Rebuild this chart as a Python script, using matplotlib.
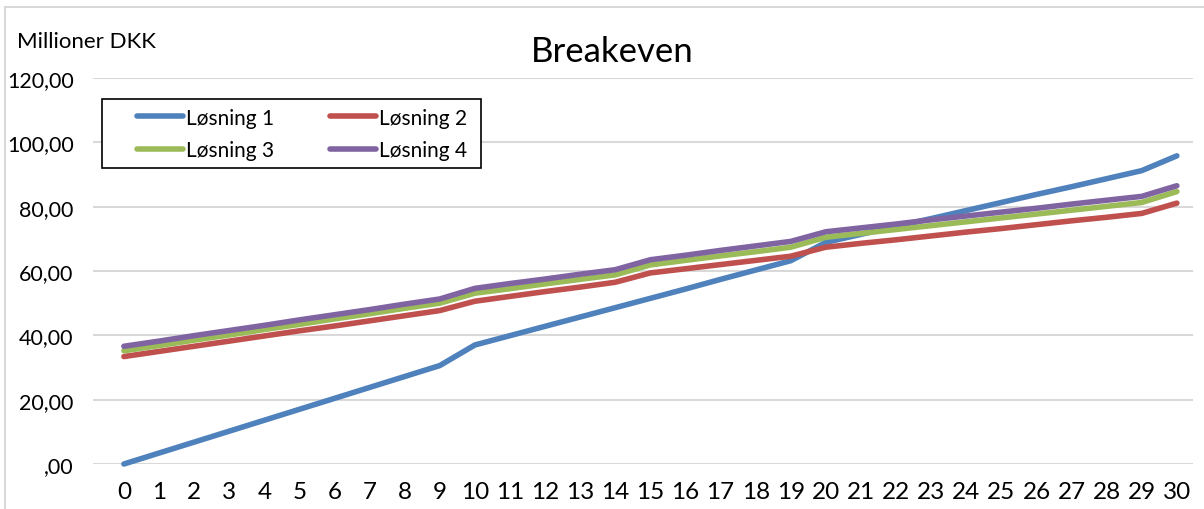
import matplotlib
matplotlib.use('Agg')
import matplotlib.pyplot as plt
from matplotlib.lines import Line2D
from matplotlib.patches import Rectangle
from matplotlib.ticker import FuncFormatter

plt.rcParams['font.family'] = ['Lato', 'DejaVu Sans']

years = list(range(0, 31))
series_names = ['Løsning 1', 'Løsning 2', 'Løsning 3', 'Løsning 4']

losning1 = [0.0, 3.4, 6.8, 10.2, 13.6, 17.0, 20.4, 23.8, 27.2, 30.6,
            37.0, 39.9, 42.8, 45.7, 48.6, 51.5, 54.4, 57.4, 60.3, 63.2,
            68.9, 71.4, 73.9, 76.3, 78.8, 81.3, 83.8, 86.2, 88.7, 91.2,
            95.8]
losning2 = [33.4, 35.0, 36.6, 38.2, 39.8, 41.4, 42.9, 44.5, 46.1, 47.7,
            50.6, 52.1, 53.6, 55.0, 56.5, 59.4, 60.7, 62.0, 63.3, 64.6,
            67.4, 68.6, 69.7, 70.9, 72.1, 73.2, 74.4, 75.6, 76.7, 77.9,
            81.1]
losning3 = [35.2, 36.8, 38.5, 40.1, 41.8, 43.4, 45.1, 46.7, 48.4, 50.0,
            53.1, 54.5, 56.0, 57.4, 58.8, 61.9, 63.3, 64.7, 66.0, 67.4,
            70.5, 71.7, 72.9, 74.1, 75.3, 76.5, 77.7, 78.9, 80.1, 81.3,
            84.7]
losning4 = [36.6, 38.2, 39.9, 41.5, 43.1, 44.8, 46.4, 48.0, 49.7, 51.3,
            54.6, 56.1, 57.5, 59.0, 60.4, 63.5, 64.9, 66.4, 67.8, 69.2,
            72.2, 73.4, 74.6, 75.9, 77.1, 78.3, 79.5, 80.8, 82.0, 83.2,
            86.5]
y_ticks = [0, 20, 40, 60, 80, 100, 120]

colors = ['#4F81BD', '#C0504D', '#9BBB59', '#8064A2']

W, H = 1204, 510
fig = plt.figure(figsize=(W / 100, H / 100), dpi=100)
ax = fig.add_axes([93 / W, (H - 465) / H, (1193 - 93) / W, (465 - 79) / H])

lines = []
for name, vals, c in zip(series_names, [losning1, losning2, losning3, losning4], colors):
    ln, = ax.plot(years, vals, color=c, lw=4, label=name, solid_capstyle='round',
                  solid_joinstyle='round', clip_on=False, zorder=3)
    lines.append(ln)

ax.set_xlim(-0.88, 30.46)
ax.set_ylim(0, 120)
ax.set_xticks(years)
ax.set_yticks(y_ticks)
ax.yaxis.set_major_formatter(FuncFormatter(
    lambda v, p: ',00' if v == 0 else f'{int(v)},00'))
ax.grid(axis='y', color='#D9D9D9', lw=1.5)
ax.set_axisbelow(True)
for s in ax.spines.values():
    s.set_visible(False)
ax.tick_params(axis='x', length=0, labelsize=17.5, pad=12)
ax.tick_params(axis='y', length=0, labelsize=15.5, pad=14)

fig.text(612 / W, 1 - 52 / H, 'Breakeven', fontsize=25, ha='center', va='center')
fig.text(17 / W, 1 - 42 / H, 'Millioner DKK', fontsize=16, ha='left', va='center')

# legend box drawn separately, entries row-wise in two columns
box = Rectangle((102 / W, 1 - 169 / H), (481 - 102) / W, 69 / H,
                transform=fig.transFigure, facecolor='white',
                edgecolor='black', lw=1.2, zorder=4, clip_on=False)
ax.add_patch(box)
order = [0, 2, 1, 3]
leg = ax.legend([lines[i] for i in order], [series_names[i] for i in order],
                loc='center', ncol=2, fontsize=15, frameon=False,
                bbox_to_anchor=(302 / W, 1 - 135 / H),
                bbox_transform=fig.transFigure, borderaxespad=0,
                handlelength=2.2, handletextpad=0.15, labelspacing=0.62,
                columnspacing=2.7)
leg.set_zorder(5)

# light chart border
fig.add_artist(Line2D([5 / W, 5 / W], [0, 1 - 8 / H], color='#D9D9D9', lw=1.5,
                      transform=fig.transFigure))
fig.add_artist(Line2D([5 / W, 1], [1 - 8 / H, 1 - 8 / H], color='#D9D9D9', lw=1.5,
                      transform=fig.transFigure))

fig.savefig('out.png', dpi=100)
